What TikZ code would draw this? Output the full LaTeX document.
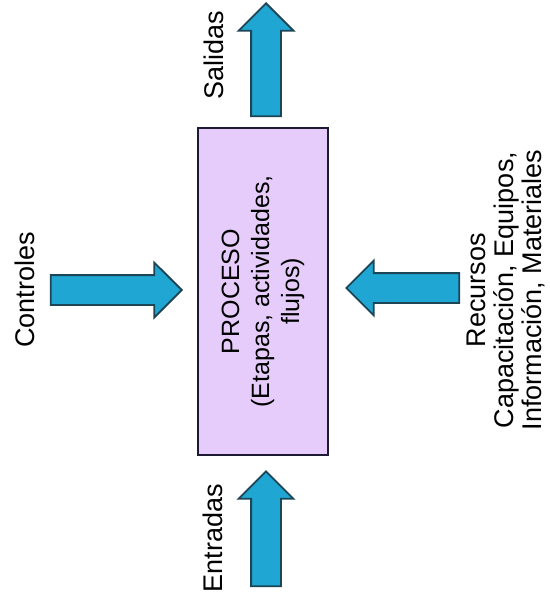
\documentclass[tikz,border=0pt]{standalone}
\usepackage{fontspec}
\setmainfont{Liberation Sans}
\usetikzlibrary{shapes.arrows}
\definecolor{arrowfill}{HTML}{1FA6D2}
\definecolor{arrowline}{HTML}{1C4655}
\definecolor{boxfill}{HTML}{E5CCFA}
\definecolor{boxline}{HTML}{1E1A33}
\begin{document}
\begin{tikzpicture}[x=1pt,y=-1pt,
  blockarrow/.style={single arrow, draw=arrowline, line width=1.8pt, fill=arrowfill,
    inner sep=0pt, inner ysep=14pt, single arrow head extend=12.5pt,
    single arrow tip angle=90, anchor=tip},
  txt/.style={font=\fontsize{27}{28}\selectfont, rotate=90, inner sep=0pt, align=center},
  procbox/.style={draw=boxline, line width=2.5pt, fill=boxfill, rotate=90,
    minimum width=327pt, minimum height=130pt, align=center,
    font=\fontsize{25}{30}\selectfont}]
\useasboundingbox[fill=white] (0,0) rectangle (549,604);
% central process box
\node[procbox] (proc) at (263,291.5) {PROCESO\\(Etapas, actividades,\\flujos)};
% arrows
\node[blockarrow, rotate=90, minimum height=113pt] (aout) at (266,2) {};
\node[blockarrow, rotate=0, minimum height=131pt] (actl) at (183,290) {};
\node[blockarrow, rotate=180, minimum height=113pt] (ares) at (345,288) {};
\node[blockarrow, rotate=90, minimum height=115pt] (ain) at (266,470) {};
% labels
\node[txt] (lout) at (214,55.5) {Salidas};
\node[txt] (lctl) at (25,290) {Controles};
\node[txt] (lin) at (213,538) {Entradas};
\node[txt] (lres) at (506,290) {Recursos\\Capacitación, Equipos,\\Información, Materiales};
\end{tikzpicture}
\end{document}
